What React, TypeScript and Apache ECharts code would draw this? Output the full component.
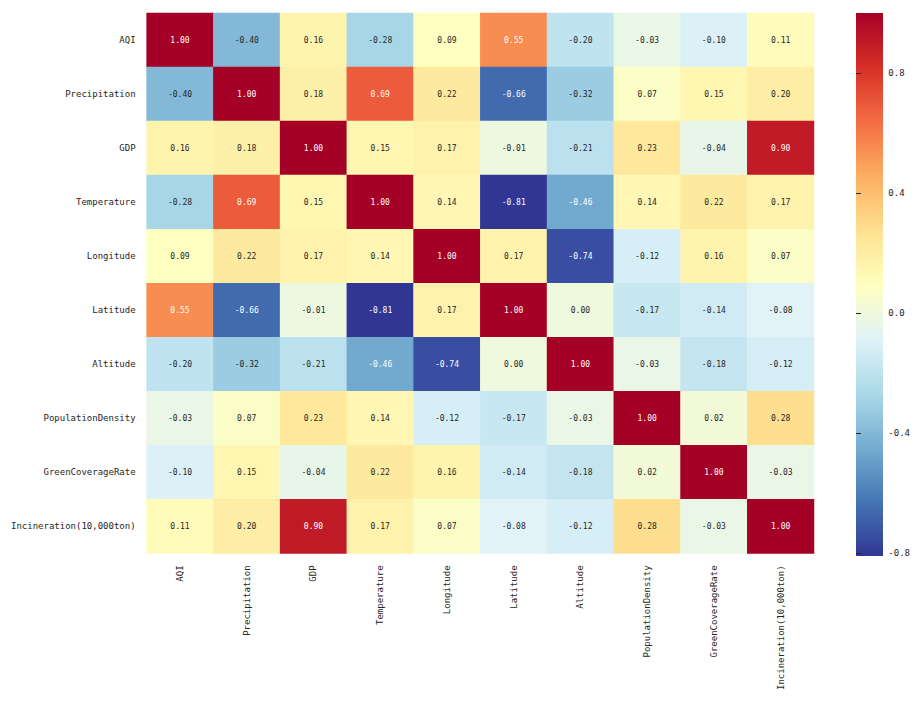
import React, { useEffect, useRef } from "react";
import * as echarts from "echarts";

const labels = [
  "AQI",
  "Precipitation",
  "GDP",
  "Temperature",
  "Longitude",
  "Latitude",
  "Altitude",
  "PopulationDensity",
  "GreenCoverageRate",
  "Incineration(10,000ton)",
];

const rowAQI = [1.0, -0.4, 0.16, -0.28, 0.09, 0.55, -0.2, -0.03, -0.1, 0.11];
const rowPrecipitation = [-0.4, 1.0, 0.18, 0.69, 0.22, -0.66, -0.32, 0.07, 0.15, 0.2];
const rowGDP = [0.16, 0.18, 1.0, 0.15, 0.17, -0.01, -0.21, 0.23, -0.04, 0.9];
const rowTemperature = [-0.28, 0.69, 0.15, 1.0, 0.14, -0.81, -0.46, 0.14, 0.22, 0.17];
const rowLongitude = [0.09, 0.22, 0.17, 0.14, 1.0, 0.17, -0.74, -0.12, 0.16, 0.07];
const rowLatitude = [0.55, -0.66, -0.01, -0.81, 0.17, 1.0, 0.0, -0.17, -0.14, -0.08];
const rowAltitude = [-0.2, -0.32, -0.21, -0.46, -0.74, 0.0, 1.0, -0.03, -0.18, -0.12];
const rowPopulationDensity = [-0.03, 0.07, 0.23, 0.14, -0.12, -0.17, -0.03, 1.0, 0.02, 0.28];
const rowGreenCoverageRate = [-0.1, 0.15, -0.04, 0.22, 0.16, -0.14, -0.18, 0.02, 1.0, -0.03];
const rowIncineration = [0.11, 0.2, 0.9, 0.17, 0.07, -0.08, -0.12, 0.28, -0.03, 1.0];

const matrix = [
  rowAQI,
  rowPrecipitation,
  rowGDP,
  rowTemperature,
  rowLongitude,
  rowLatitude,
  rowAltitude,
  rowPopulationDensity,
  rowGreenCoverageRate,
  rowIncineration,
];

const colorbarTicks = [-0.8, -0.4, 0.0, 0.4, 0.8];
const vmin = -0.81;
const vmax = 1.0;

const palette = [
  "#313695",
  "#4575b4",
  "#74add1",
  "#abd9e9",
  "#e0f3f8",
  "#ffffbf",
  "#fee090",
  "#fdae61",
  "#f46d43",
  "#d73027",
  "#a50026",
];

const FONT = "DejaVu Sans Mono";
const TEXT = "#262626";

function hexToRgb(h: string) {
  const n = parseInt(h.slice(1), 16);
  return [(n >> 16) & 255, (n >> 8) & 255, n & 255];
}
function colorAt(v: number) {
  const t = Math.min(1, Math.max(0, (v - vmin) / (vmax - vmin)));
  const p = t * (palette.length - 1);
  const i = Math.min(palette.length - 2, Math.floor(p));
  const f = p - i;
  const a = hexToRgb(palette[i]);
  const b = hexToRgb(palette[i + 1]);
  return [0, 1, 2].map((k) => a[k] + (b[k] - a[k]) * f);
}
function luminance(rgb: number[]) {
  const c = rgb.map((x) => {
    const s = x / 255;
    return s <= 0.03928 ? s / 12.92 : Math.pow((s + 0.055) / 1.055, 2.4);
  });
  return 0.2126 * c[0] + 0.7152 * c[1] + 0.0722 * c[2];
}

const GRID = { left: 136, top: 5, width: 670, height: 543 };
const CBAR = { left: 848, top: 5, width: 27, height: 543 };

export default function App() {
  const ref = useRef<HTMLDivElement>(null);
  useEffect(() => {
    if (!ref.current) return;
    const chart = echarts.init(ref.current, null, { renderer: "svg" });
    const data: any[] = [];
    matrix.forEach((row, r) => {
      row.forEach((v, c) => {
        const lum = luminance(colorAt(v));
        data.push({
          value: [c, r, v],
          label: { color: lum > 0.408 ? TEXT : "#ffffff" },
        });
      });
    });
    chart.setOption({
      animation: false,
      backgroundColor: "#ffffff",
      grid: [
        { ...GRID },
        { ...CBAR },
      ],
      xAxis: [
        {
          type: "category",
          gridIndex: 0,
          data: labels,
          position: "bottom",
          axisLine: { show: false },
          axisTick: { show: false },
          splitLine: { show: false },
          axisLabel: {
            rotate: 90,
            interval: 0,
            margin: 12,
            fontFamily: FONT,
            fontSize: 9,
            color: TEXT,
          },
        },
        {
          type: "value",
          gridIndex: 1,
          show: false,
        },
      ],
      yAxis: [
        {
          type: "category",
          gridIndex: 0,
          data: labels,
          inverse: true,
          axisLine: { show: false },
          axisTick: { show: false },
          splitLine: { show: false },
          axisLabel: {
            interval: 0,
            margin: 11,
            fontFamily: FONT,
            fontSize: 9,
            color: TEXT,
          },
        },
        {
          type: "value",
          gridIndex: 1,
          position: "right",
          min: vmin,
          max: vmax,
          axisLine: { show: false },
          splitLine: { show: false },
          axisTick: {
            show: true,
            length: 5,
            customValues: colorbarTicks,
            lineStyle: { color: TEXT, width: 1 },
          },
          axisLabel: {
            show: true,
            margin: 10,
            customValues: colorbarTicks,
            fontFamily: FONT,
            fontSize: 9,
            color: TEXT,
            formatter: (v: number) => v.toFixed(1),
          },
        },
      ],
      visualMap: {
        type: "continuous",
        min: vmin,
        max: vmax,
        seriesIndex: 0,
        show: false,
        inRange: { color: palette },
      },
      graphic: [
        {
          type: "rect",
          left: CBAR.left,
          top: CBAR.top,
          shape: { width: CBAR.width, height: CBAR.height },
          silent: true,
          z: 0,
          style: {
            fill: new echarts.graphic.LinearGradient(
              0,
              1,
              0,
              0,
              palette.map((c, i) => ({ offset: i / (palette.length - 1), color: c }))
            ),
          },
        },
      ],
      series: [
        {
          type: "heatmap",
          xAxisIndex: 0,
          yAxisIndex: 0,
          data,
          label: {
            show: true,
            fontFamily: FONT,
            fontSize: 8,
            formatter: (p: any) => p.value[2].toFixed(2),
          },
          itemStyle: { borderWidth: 0 },
          emphasis: { disabled: true },
        },
      ],
    });
    return () => chart.dispose();
  }, []);
  return <div ref={ref} style={{ width: 905, height: 685 }} />;
}
